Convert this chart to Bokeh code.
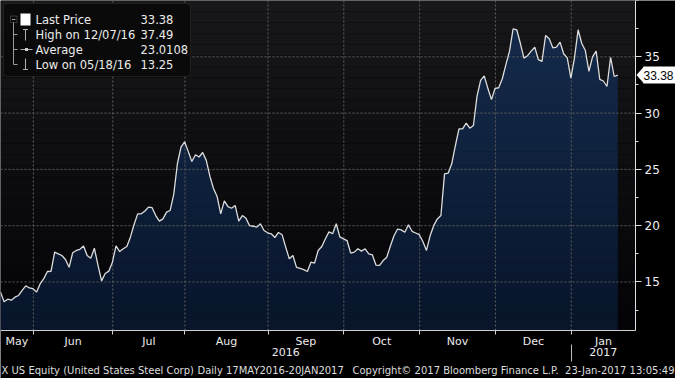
import numpy as np
import pandas as pd
from bokeh.plotting import figure
from bokeh.models import Range1d, FixedTicker, Label, BoxAnnotation, PolyAnnotation, LinearAxis
from bokeh.embed import file_html
from bokeh.resources import INLINE

# ---------------- data ----------------
prices = [
    14.10, 13.25, 13.47, 13.38, 13.65, 13.80, 14.25, 14.66, 14.47, 14.40,
    14.10, 14.85, 15.30, 15.93, 15.95, 17.65, 17.50, 17.35, 17.00, 16.30,
    17.60, 17.80, 17.90, 18.20, 17.35, 17.10, 18.00, 16.50, 15.10, 15.75,
    15.96, 16.76, 18.20, 17.70, 17.95, 18.15, 19.00, 20.10, 21.05, 21.05,
    21.30, 21.65, 21.60, 20.90, 20.40, 20.60, 21.20, 21.35, 22.80, 25.50,
    26.97, 27.45, 26.60, 25.70, 26.30, 26.10, 26.50, 25.80, 24.40, 23.30,
    22.60, 21.05, 22.20, 21.70, 21.55, 21.80, 20.40, 20.90, 20.65, 20.00,
    19.95, 19.87, 20.17, 19.57, 19.37, 19.28, 18.95, 19.40, 19.20, 18.10,
    17.06, 17.35, 16.30, 16.20, 16.10, 15.93, 16.76, 16.67, 17.80, 18.15,
    18.84, 19.45, 19.28, 20.17, 19.00, 18.83, 18.68, 17.56, 17.65, 17.95,
    17.74, 17.95, 17.50, 17.41, 16.50, 16.47, 16.90, 17.20, 18.20, 19.10,
    19.70, 19.63, 19.42, 20.08, 19.50, 19.35, 19.20, 18.60, 17.80, 19.10,
    20.00, 20.60, 20.90, 24.60, 24.66, 25.50, 27.10, 28.60, 28.60, 29.10,
    28.66, 28.90, 31.50, 32.90, 33.30, 32.20, 31.20, 32.20, 32.25, 33.05,
    34.30, 35.50, 37.49, 37.40, 36.20, 34.88, 35.10, 35.50, 35.85, 34.75,
    34.60, 36.90, 36.60, 35.80, 35.85, 36.30, 35.27, 34.90, 33.10, 34.90,
    37.40, 36.20, 35.56, 33.70, 35.00, 35.50, 33.00, 32.85, 32.36, 34.96,
    33.25, 33.38,
]
holidays = ["2016-05-30", "2016-07-04", "2016-09-05", "2016-11-24",
            "2016-12-26", "2017-01-02", "2017-01-16"]
month_names = ["May", "Jun", "Jul", "Aug", "Sep", "Oct", "Nov", "Dec", "Jan"]
year_names = ["2016", "2017"]
y_major = [15, 20, 25, 30, 35]
y_minor = [12.5, 17.5, 22.5, 27.5, 32.5, 37.5, 40]
legend_names = ["Last Price", "High on 12/07/16", "Average", "Low on 05/18/16"]
legend_values = ["33.38", "37.49", "23.0108", "13.25"]
last_label = "33.38"
footer = [
    ("X US Equity (United States Steel Corp)", 1, "left"),
    ("Daily 17MAY2016-20JAN2017", 197, "left"),
    ("Copyright\u00a9 2017 Bloomberg Finance L.P.", 352, "left"),
    ("23-Jan-2017 13:05:49", 674, "right"),
]

dates = pd.bdate_range("2016-05-17", "2017-01-20")
dates = dates[~dates.isin(pd.to_datetime(holidays))]
assert len(dates) == len(prices)
idx = np.arange(len(prices))
price = np.array(prices)

# ---------------- geometry ----------------
W, H = 675, 378
PW, PH = 635, 330            # plot area (pixels) inside the full-canvas frame
PX_PER_DAY = 3.61
Y_TOP, Y_BOT = 40.0, 10.69
K = (Y_TOP - Y_BOT) / PH     # value per pixel


def dx(px):
    return px / PX_PER_DAY


def dy(py):
    return Y_TOP - py * K


X_PLOT = dx(PW)

months = dates.to_period("M")
first_idx = [i for i in range(1, len(dates)) if months[i] != months[i - 1]]
bounds = [i - 0.9 for i in first_idx]
edges = [0.0] + bounds + [X_PLOT]
centers = [(edges[k] + edges[k + 1]) / 2 for k in range(len(edges) - 1)]
year_split = bounds[-1]
year_centers = [year_split / 2, (year_split + X_PLOT) / 2]

p = figure(width=W, height=H, output_backend="svg", toolbar_location=None,
           x_range=Range1d(0, dx(W)), y_range=Range1d(dy(H), Y_TOP),
           x_axis_type=None, y_axis_type=None,
           min_border_left=0, min_border_top=0, min_border_right=0, min_border_bottom=0)
p.border_fill_color = "black"
p.background_fill_color = "black"
p.outline_line_color = None
p.xgrid.visible = False
p.ygrid.visible = False

# plot-area background gradient
NB = 30
for k in range(NB):
    t = k / (NB - 1)
    c = (np.array([4, 4, 8]) + (np.array([24, 24, 26]) - np.array([4, 4, 8])) * t).astype(int)
    lo = Y_BOT + (Y_TOP - Y_BOT) * k / NB
    hi = Y_BOT + (Y_TOP - Y_BOT) * (k + 1) / NB
    p.add_layout(BoxAnnotation(right=X_PLOT, bottom=lo, top=hi + 0.01,
                               fill_color="#%02x%02x%02x" % tuple(c), fill_alpha=1,
                               line_color=None, level="underlay"))

# area with vertical gradient
NA = 24
for k in range(NA):
    t = k / (NA - 1)
    c = (np.array([8, 21, 43]) + (np.array([22, 45, 78]) - np.array([8, 21, 43])) * t).astype(int)
    lo = Y_BOT + (Y_TOP - Y_BOT) * k / NA
    hi = Y_BOT + (Y_TOP - Y_BOT) * (k + 1) / NA
    p.varea(x=idx, y1=np.minimum(price, lo), y2=np.minimum(price, hi + 0.02),
            fill_color="#%02x%02x%02x" % tuple(c), fill_alpha=1)

# dotted grid inside the plot area
p.segment(x0=bounds, y0=[Y_BOT] * len(bounds), x1=bounds, y1=[Y_TOP] * len(bounds),
          line_color="#5e5e5e", line_dash="2 2", line_width=1)
p.segment(x0=[0] * len(y_major), y0=y_major, x1=[X_PLOT] * len(y_major), y1=y_major,
          line_color="#5e5e5e", line_dash="2 2", line_width=1)

p.line(idx, price, line_color="#dcdcdc", line_width=1.3)

TXT = "#ececec"
FONT = "DejaVu Sans"

# y axis on the right edge of the plot area
ya = LinearAxis(fixed_location=X_PLOT, bounds=(Y_BOT, Y_TOP),
                ticker=FixedTicker(ticks=y_major, minor_ticks=y_minor))
ya.major_label_text_color = "#f0f0f0"
ya.major_label_text_font = FONT
ya.major_label_text_font_size = "12px"
ya.axis_line_color = "#e0e0e0"
ya.major_tick_line_color = "#e0e0e0"
ya.minor_tick_line_color = "#e0e0e0"
ya.major_tick_out = 6
ya.major_tick_in = 0
ya.minor_tick_out = 3
ya.minor_tick_in = 0
ya.major_label_standoff = 3
p.add_layout(ya, "right")

# x axis: month boundary ticks
xa = LinearAxis(fixed_location=Y_BOT, bounds=(0, X_PLOT), ticker=FixedTicker(ticks=bounds))
xa.major_label_overrides = {b: "" for b in bounds}
xa.axis_line_color = "#d0d0d0"
xa.major_tick_line_color = "#d0d0d0"
xa.major_tick_out = 4
xa.major_tick_in = 0
xa.minor_tick_line_color = None
p.add_layout(xa, "below")

# month names centred in each month
ma = LinearAxis(fixed_location=Y_BOT, ticker=FixedTicker(ticks=centers))
ma.major_label_overrides = {c: n for c, n in zip(centers, month_names)}
ma.axis_line_color = None
ma.major_tick_line_color = None
ma.minor_tick_line_color = None
ma.major_tick_out = 0
ma.major_tick_in = 0
ma.major_label_standoff = 4
ma.major_label_text_color = TXT
ma.major_label_text_font = FONT
ma.major_label_text_font_size = "11px"
p.add_layout(ma, "below")

# years
yr = LinearAxis(fixed_location=dy(346), ticker=FixedTicker(ticks=year_centers))
yr.major_label_overrides = {c: n for c, n in zip(year_centers, year_names)}
yr.axis_line_color = None
yr.major_tick_line_color = None
yr.minor_tick_line_color = None
yr.major_tick_out = 0
yr.major_tick_in = 0
yr.major_label_standoff = 1
yr.major_label_text_color = TXT
yr.major_label_text_font = FONT
yr.major_label_text_font_size = "11px"
p.add_layout(yr, "below")

# year separator
ys = LinearAxis(fixed_location=dy(344), ticker=FixedTicker(ticks=[year_split]))
ys.major_label_overrides = {year_split: ""}
ys.axis_line_color = None
ys.major_tick_line_color = "#bbbbbb"
ys.minor_tick_line_color = None
ys.major_tick_out = 17
ys.major_tick_in = 0
p.add_layout(ys, "below")

for text, px, align in footer:
    p.add_layout(Label(x=dx(px), y=dy(370), text=text, text_align=align, text_baseline="middle",
                       text_color="#dddddd", text_font=FONT, text_font_size="10px"))

# last price tag
py_last = (Y_TOP - price[-1]) / K
p.add_layout(BoxAnnotation(left=dx(643), right=dx(W), top=dy(py_last - 8.5), bottom=dy(py_last + 8.5),
                           fill_color="white", fill_alpha=1, line_color=None))
p.add_layout(PolyAnnotation(xs=[dx(636), dx(643.5), dx(643.5)],
                            ys=[dy(py_last), dy(py_last - 8.5), dy(py_last + 8.5)],
                            fill_color="white", fill_alpha=1, line_color=None))
p.add_layout(Label(x=dx(658), y=dy(py_last), text=last_label, text_align="center",
                   text_baseline="middle", text_color="black", text_font="Liberation Sans",
                   text_font_size="12px"))

# legend box
p.add_layout(BoxAnnotation(left=dx(3), right=dx(190), top=dy(3), bottom=dy(76),
                           fill_color="#0a0a0a", fill_alpha=1, line_color="#4a4a4a",
                           line_width=1, border_radius=4))


def hline(x0, x1, yy, color="#9a9a9a"):
    p.add_layout(BoxAnnotation(left=dx(x0), right=dx(x1), top=dy(yy - 0.5), bottom=dy(yy + 0.5),
                               fill_color=color, fill_alpha=1, line_color=None))


def vline(xx, y0, y1, color="#9a9a9a"):
    p.add_layout(BoxAnnotation(left=dx(xx - 0.5), right=dx(xx + 0.5), top=dy(y0), bottom=dy(y1),
                               fill_color=color, fill_alpha=1, line_color=None))


rows = [19, 34, 49, 64]
p.add_layout(BoxAnnotation(left=dx(10), right=dx(16.5), top=dy(15.5), bottom=dy(22),
                           fill_color=None, line_color="#9a9a9a", line_width=1))
hline(11.5, 15, 19)
vline(13, 22, rows[3])
for r in rows[1:]:
    hline(13, 17, r)
p.add_layout(BoxAnnotation(left=dx(20), right=dx(30), top=dy(13), bottom=dy(25),
                           fill_color="white", fill_alpha=1, line_color=None))
vline(25, 29, 40, "#b0b0b0")
hline(22.5, 27.5, 29, "#b0b0b0")
hline(20, 32, 49, "#b0b0b0")
p.add_layout(BoxAnnotation(left=dx(24.5), right=dx(27.5), top=dy(47.5), bottom=dy(50.5),
                           fill_color="#d0d0d0", fill_alpha=1, line_color=None))
vline(25, 58, 69, "#b0b0b0")
hline(22.5, 27.5, 69, "#b0b0b0")

for name, val, r in zip(legend_names, legend_values, rows):
    p.add_layout(Label(x=dx(35), y=dy(r), text=name, text_baseline="middle",
                       text_color=TXT, text_font=FONT, text_font_size="11.5px"))
    p.add_layout(Label(x=dx(140), y=dy(r), text=val, text_baseline="middle",
                       text_color=TXT, text_font=FONT, text_font_size="11.5px"))

open("out.html", "w").write(file_html(p, INLINE))
